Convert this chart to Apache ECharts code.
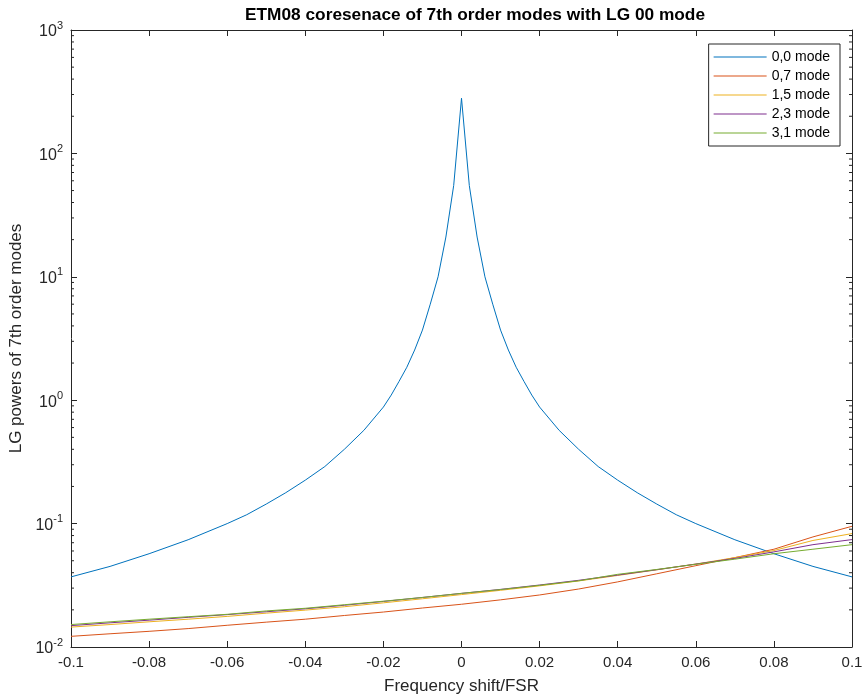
<!DOCTYPE html>
<html>
<head>
<meta charset="utf-8">
<script src="https://cdn.jsdelivr.net/npm/echarts@6/dist/echarts.min.js"></script>
<style>
  html, body { margin: 0; padding: 0; background: #fff; }
  #chart { width: 865px; height: 695px; }
</style>
</head>
<body>
<div id="chart"></div>
<script>
// 0,0 mode (LG 00 resonance peak)
var blueX = [-0.1, -0.09, -0.08, -0.07, -0.06, -0.055, -0.05, -0.045, -0.04, -0.035, -0.03, -0.025,
  -0.02, -0.018, -0.016, -0.014, -0.012, -0.01, -0.008, -0.006, -0.004, -0.002, 0,
  0.002, 0.004, 0.006, 0.008, 0.01, 0.012, 0.014, 0.016, 0.018, 0.02,
  0.025, 0.03, 0.035, 0.04, 0.045, 0.05, 0.055, 0.06, 0.07, 0.08, 0.09, 0.1];
var blueY = [0.037, 0.045, 0.057, 0.074, 0.1, 0.118, 0.144, 0.178, 0.225, 0.29, 0.40, 0.57,
  0.88, 1.1, 1.42, 1.85, 2.55, 3.7, 6.0, 10, 21, 55, 280,
  55, 21, 10, 6.0, 3.7, 2.55, 1.85, 1.42, 1.1, 0.88,
  0.57, 0.40, 0.29, 0.225, 0.178, 0.144, 0.118, 0.1, 0.074, 0.057, 0.045, 0.037];

// 7th order modes, sampled every 0.01
var modeX = [-0.1, -0.09, -0.08, -0.07, -0.06, -0.05, -0.04, -0.03, -0.02, -0.01, 0,
  0.01, 0.02, 0.03, 0.04, 0.05, 0.06, 0.07, 0.08, 0.09, 0.1];
var mode07 = [0.0122, 0.0128, 0.0134, 0.0141, 0.0150, 0.0159, 0.0168, 0.0180, 0.0192, 0.0207, 0.0222,
  0.0241, 0.0264, 0.0295, 0.0337, 0.0392, 0.0456, 0.0530, 0.0620, 0.0780, 0.0951];
var mode15 = [0.0145, 0.0152, 0.0160, 0.0168, 0.0177, 0.0188, 0.0199, 0.0212, 0.0228, 0.0246, 0.0266,
  0.0288, 0.0313, 0.0343, 0.0380, 0.0422, 0.0470, 0.0530, 0.0605, 0.0730, 0.0830];
var mode23 = [0.0149, 0.0157, 0.0165, 0.0174, 0.0183, 0.0193, 0.0204, 0.0218, 0.0234, 0.0252, 0.0272,
  0.0293, 0.0318, 0.0347, 0.0383, 0.0423, 0.0470, 0.0522, 0.0590, 0.0675, 0.0742];
var mode31 = [0.0152, 0.0160, 0.0168, 0.0176, 0.0184, 0.0196, 0.0206, 0.0220, 0.0235, 0.0252, 0.0272,
  0.0292, 0.0316, 0.0344, 0.0388, 0.0425, 0.0468, 0.0515, 0.0570, 0.0620, 0.0675];

var seriesNames = ["0,0 mode", "0,7 mode", "1,5 mode", "2,3 mode", "3,1 mode"];
var seriesColors = ["#0072BD", "#D95319", "#EDB120", "#7E2F8E", "#77AC30"];

// MATLAB style minor ticks on the log axis (2..9 in each decade)
var minorMult = [2, 3, 4, 5, 6, 7, 8, 9];
var decades = [0.01, 0.1, 1, 10, 100];
var minorTicks = [];
decades.forEach(function (d) {
  minorMult.forEach(function (m) { minorTicks.push([m * d]); });
});

function pairs(xs, ys) {
  return xs.map(function (x, i) { return [x, ys[i]]; });
}

var axisColor = "#262626";
var fontFam = "'Liberation Sans', Arial, Helvetica, sans-serif";

var chart = echarts.init(document.getElementById("chart"), null, { renderer: "canvas" });

var lineSeries = [blueY, mode07, mode15, mode23, mode31].map(function (ys, i) {
  return {
    name: seriesNames[i],
    type: "line",
    xAxisIndex: 0,
    yAxisIndex: 0,
    symbol: "none",
    animation: false,
    lineStyle: { width: 1, color: seriesColors[i] },
    itemStyle: { color: seriesColors[i] },
    data: i === 0 ? pairs(blueX, ys) : pairs(modeX, ys),
    z: 3 + i,
  };
});

var option = {
  backgroundColor: "#fff",
  animation: false,
  title: {
    text: "ETM08 coresenace of 7th order modes with LG 00 mode",
    left: 470,
    textAlign: "center",
    top: 2,
    textStyle: { fontFamily: fontFam, fontSize: 17.3, fontWeight: "bold", color: "#000" },
  },
  grid: { left: 71, right: 13, top: 30, bottom: 48, containLabel: false, outerBoundsMode: "none" },
  legend: {
    data: seriesNames,
    orient: "vertical",
    right: 25,
    top: 44,
    padding: [5, 10, 5, 5],
    itemGap: 3,
    itemWidth: 53,
    itemHeight: 1.2,
    icon: "rect",
    borderColor: axisColor,
    borderWidth: 1,
    borderRadius: 0,
    backgroundColor: "#fff",
    textStyle: { fontFamily: fontFam, fontSize: 14, color: "#000", lineHeight: 16 },
  },
  xAxis: [
    {
      type: "value",
      min: -0.1,
      max: 0.1,
      interval: 0.02,
      name: "Frequency shift/FSR",
      nameLocation: "middle",
      nameGap: 31,
      nameTextStyle: { fontFamily: fontFam, fontSize: 17, color: axisColor },
      axisLine: { onZero: false, lineStyle: { color: axisColor, width: 1 } },
      axisTick: { inside: true, length: 6, lineStyle: { color: axisColor } },
      axisLabel: {
        fontFamily: fontFam,
        fontSize: 15,
        color: axisColor,
        margin: 8,
        formatter: function (v) { return String(Number(v.toFixed(2))); },
      },
      splitLine: { show: false },
    },
    {
      type: "value",
      position: "top",
      min: -0.1,
      max: 0.1,
      interval: 0.02,
      axisLine: { onZero: false, lineStyle: { color: axisColor, width: 1 } },
      axisTick: { inside: true, length: 6, lineStyle: { color: axisColor } },
      axisLabel: { show: false },
      splitLine: { show: false },
    },
  ],
  yAxis: [
    {
      type: "log",
      logBase: 10,
      min: 0.01,
      max: 1000,
      name: "LG powers of 7th order modes",
      nameLocation: "middle",
      nameGap: 41,
      nameTextStyle: { fontFamily: fontFam, fontSize: 17, color: axisColor },
      axisLine: { onZero: false, lineStyle: { color: axisColor, width: 1 } },
      axisTick: { inside: true, length: 6, lineStyle: { color: axisColor } },
      axisLabel: {
        fontFamily: fontFam,
        color: axisColor,
        margin: 8,
        formatter: function (v) {
          var e = Math.round(Math.log(v) / Math.LN10);
          return "{b|10}{s|" + e + "}";
        },
        rich: {
          b: { fontFamily: fontFam, fontSize: 16, color: axisColor, lineHeight: 20, verticalAlign: "bottom" },
          s: { fontFamily: fontFam, fontSize: 11, color: axisColor, lineHeight: 20, verticalAlign: "top" },
        },
      },
      splitLine: { show: false },
    },
    {
      type: "log",
      logBase: 10,
      min: 0.01,
      max: 1000,
      position: "right",
      axisLine: { onZero: false, lineStyle: { color: axisColor, width: 1 } },
      axisTick: { inside: true, length: 6, lineStyle: { color: axisColor } },
      axisLabel: { show: false },
      splitLine: { show: false },
    },
  ],
  series: lineSeries.concat([
    {
      name: "minorTicks",
      type: "custom",
      xAxisIndex: 0,
      yAxisIndex: 0,
      silent: true,
      animation: false,
      data: minorTicks,
      renderItem: function (params, api) {
        var v = api.value(0);
        var pl = api.coord([-0.1, v]);
        var pr = api.coord([0.1, v]);
        return {
          type: "group",
          children: [
            { type: "line", shape: { x1: pl[0], y1: pl[1], x2: pl[0] + 3, y2: pl[1] }, style: { stroke: axisColor, lineWidth: 1 } },
            { type: "line", shape: { x1: pr[0], y1: pr[1], x2: pr[0] - 3, y2: pr[1] }, style: { stroke: axisColor, lineWidth: 1 } },
          ],
        };
      },
      z: 1,
    },
  ]),
};

chart.setOption(option);
</script>
</body>
</html>
